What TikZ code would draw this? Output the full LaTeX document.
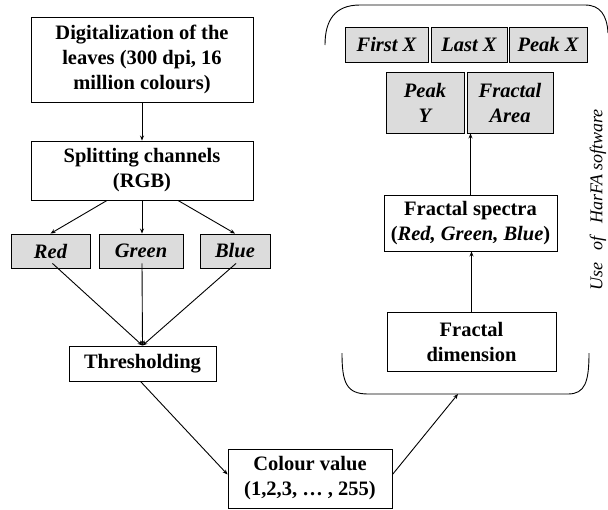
\documentclass[tikz,border=0pt]{standalone}
\usepackage{fontspec}
\setmainfont{Liberation Serif}
\usetikzlibrary{arrows.meta}
\definecolor{boxgray}{HTML}{DCDCDC}
\begin{document}
\begin{tikzpicture}[x=1pt,y=-1pt,
  every node/.style={font=\fontsize{20.5}{25}\selectfont\bfseries},
  wbox/.style={draw, line width=0.9pt, inner sep=0pt, align=center},
  gbox/.style={wbox, fill=boxgray, font=\fontsize{20.5}{25}\selectfont\bfseries\itshape},
  arr/.style={line width=0.9pt, -{Stealth[length=5pt,width=4pt]}},
  ln/.style={line width=0.9pt}]
\useasboundingbox (0,0) rectangle (608,509);
% left column
\node[wbox, minimum width=222pt, minimum height=85pt] (dig) at (142,59.5) {Digitalization of the\\leaves (300 dpi, 16\\million colours)};
\node[wbox, minimum width=222pt, minimum height=59pt] (split) at (142,170.5) {Splitting channels\\(RGB)};
\node[gbox, minimum width=79pt, minimum height=34pt] (red) at (50.5,251) {Red};
\node[gbox, minimum width=84pt, minimum height=34pt] (green) at (141,251) {Green};
\node[gbox, minimum width=70pt, minimum height=34pt] (blue) at (235,251) {Blue};
\node[wbox, minimum width=147pt, minimum height=35pt] (thr) at (142.5,363.5) {Thresholding};
\node[wbox, minimum width=164pt, minimum height=59pt] (col) at (310,478.5) {Colour value\\(1,2,3, \dots\ , 255)};
% right column
\node[wbox, minimum width=169pt, minimum height=59pt] (fdim) at (471.5,341.5) {Fractal\\dimension};
\node[wbox, minimum width=173pt, minimum height=56pt] (fspec) at (470.5,223) {Fractal spectra\\(\textit{Red, Green, Blue})};
\node[gbox, minimum width=78pt, minimum height=61pt] (peaky) at (425,102.5) {Peak\\Y};
\node[gbox, minimum width=86pt, minimum height=61pt] (farea) at (510,102.5) {Fractal\\Area};
\node[gbox, minimum width=83pt, minimum height=35pt] (firstx) at (386.5,44.5) {First X};
\node[gbox, minimum width=76pt, minimum height=35pt] (lastx) at (469,44.5) {Last X};
\node[gbox, minimum width=78pt, minimum height=35pt] (peakx) at (548,44.5) {Peak X};
\node[rotate=90, font=\fontsize{18}{22}\selectfont\itshape] (harfa) at (598,200) {Use\hspace{0.7em}of\hspace{0.7em}HarFA software};
% brackets
\draw[ln] (325,45) .. controls (325,20) and (335,5) .. (360,5) -- (585,5) .. controls (600,5) and (607,15) .. (608,33);
\coordinate (brk) at (458,394);
\draw[ln] (342,353) .. controls (342,382) and (346,394) .. (368,394) -- (568,394) .. controls (585,394) and (589,382) .. (589,353);
% connectors
\draw[arr] (dig.south) -- (split.north);
\draw[arr] ([xshift=-35pt]split.south) -- (red.north);
\draw[arr] (split.south) -- (split.south |- green.north);
\draw[arr] ([xshift=36pt]split.south) -- (blue.north);
\draw[arr] ([xshift=2pt,yshift=5pt]red.south) -- (thr.north);
\draw[arr] ([xshift=1pt,yshift=5pt]green.south) -- (thr.north);
\draw[arr] ([xshift=1pt,yshift=5pt]blue.south) -- (thr.north);
\draw[arr] ([xshift=-2pt]thr.south) -- ([yshift=4pt]col.west);
\draw[arr] ([yshift=4pt]col.east) -- (brk);
\draw[line width=1.4pt, -{Stealth[length=5pt,width=4pt]}] (fdim.north) -- (fdim.north |- fspec.south);
\draw[arr] (fspec.north) -- (fspec.north |- farea.south);
\end{tikzpicture}
\end{document}
